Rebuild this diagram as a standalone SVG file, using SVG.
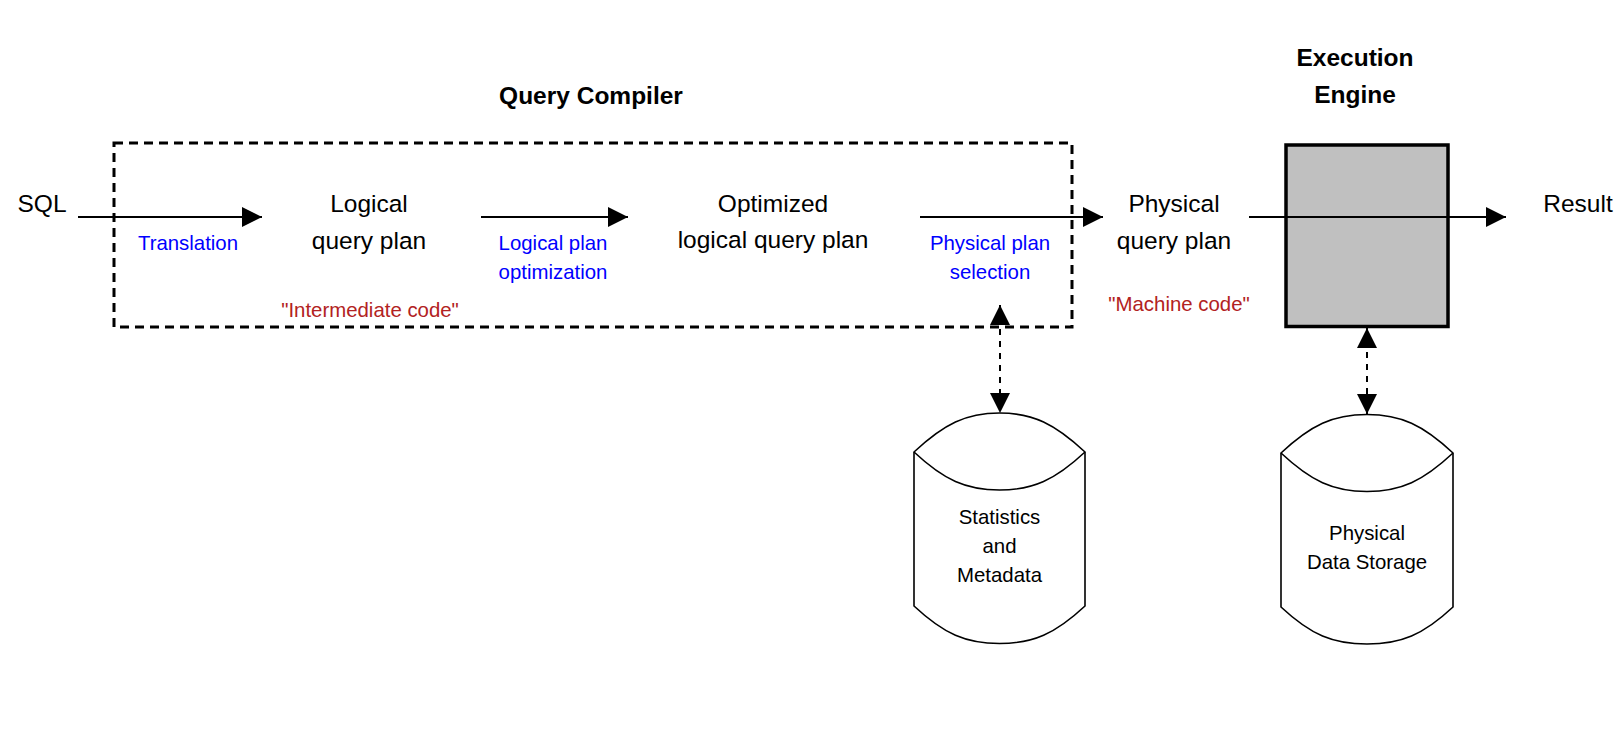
<svg xmlns="http://www.w3.org/2000/svg" width="1622" height="736" viewBox="0 0 1622 736">
<style>
text{font-family:"Liberation Sans",Arial,Helvetica,sans-serif;text-anchor:middle}
.lbl{font-size:24.5px;fill:#000}
.ttl{font-size:24.5px;font-weight:bold;fill:#000}
.op{font-size:20.4px;fill:#0000ff}
.code{font-size:20.4px;fill:#b22222}
.db{font-size:20.4px;fill:#000}
.conn{stroke:#000;stroke-width:2;fill:none}
.dash{stroke:#000;stroke-width:2;fill:none;stroke-dasharray:6 6}
.cyl{stroke:#000;stroke-width:1.6;fill:#fff}
</style>
<defs>
<marker id="ah" viewBox="0 0 20 20" refX="20" refY="10" markerWidth="20" markerHeight="20" markerUnits="userSpaceOnUse" orient="auto-start-reverse">
<path d="M0,0 L20,10 L0,20 Z" fill="#000"/>
</marker>
</defs>
<rect width="1622" height="736" fill="#fff"/>

<g id="query-compiler">
<rect x="114" y="143" width="958" height="184" fill="none" stroke="#000" stroke-width="3" stroke-dasharray="9 6"/>
<text class="ttl" x="591" y="103.6">Query Compiler</text>
</g>

<g id="execution-engine">
<rect x="1286" y="145" width="162" height="181.5" fill="#c0c0c0" stroke="#000" stroke-width="3.5"/>
<text class="ttl" x="1355" y="66.3">Execution</text>
<text class="ttl" x="1355" y="102.9">Engine</text>
</g>

<g id="connectors">
<line class="conn" x1="78" y1="217" x2="262" y2="217" marker-end="url(#ah)"/>
<line class="conn" x1="481" y1="217" x2="628" y2="217" marker-end="url(#ah)"/>
<line class="conn" x1="920" y1="217" x2="1103" y2="217" marker-end="url(#ah)"/>
<line class="conn" x1="1249" y1="217" x2="1506" y2="217" marker-end="url(#ah)"/>
<line class="dash" x1="1000" y1="305" x2="1000" y2="413" marker-start="url(#ah)" marker-end="url(#ah)"/>
<line class="dash" x1="1367" y1="328" x2="1367" y2="414" marker-start="url(#ah)" marker-end="url(#ah)"/>
</g>

<g id="sql"><text class="lbl" x="42" y="211.6">SQL</text></g>
<g id="translation"><text class="op" x="188" y="250.1">Translation</text></g>
<g id="logical-plan">
<text class="lbl" x="369" y="211.6">Logical</text>
<text class="lbl" x="369" y="248.6">query plan</text>
</g>
<g id="intermediate-code"><text class="code" x="370" y="317.1">"Intermediate code"</text></g>
<g id="logical-plan-optimization">
<text class="op" x="553" y="250.1">Logical plan</text>
<text class="op" x="553" y="279.1">optimization</text>
</g>
<g id="optimized-plan">
<text class="lbl" x="773" y="211.6">Optimized</text>
<text class="lbl" x="773" y="247.6">logical query plan</text>
</g>
<g id="physical-plan-selection">
<text class="op" x="990" y="250.1">Physical plan</text>
<text class="op" x="990" y="279.1">selection</text>
</g>
<g id="physical-plan">
<text class="lbl" x="1174" y="211.6">Physical</text>
<text class="lbl" x="1174" y="248.6">query plan</text>
</g>
<g id="machine-code"><text class="code" x="1179" y="311.1">"Machine code"</text></g>
<g id="result"><text class="lbl" x="1578" y="211.6">Result</text></g>

<g id="statistics-metadata">
<path class="cyl" d="M914,452 C944,424 966,413 999.5,413 C1033,413 1055,424 1085,452 L1085,606 C1055,634 1033,643.5 999.5,643.5 C966,643.5 944,634 914,606 Z"/>
<path class="cyl" fill="none" d="M914,452 C944,480 966,490 999.5,490 C1033,490 1055,480 1085,452"/>
<text class="db" x="999.5" y="523.8">Statistics</text>
<text class="db" x="999.5" y="552.8">and</text>
<text class="db" x="999.5" y="582.1">Metadata</text>
</g>

<g id="physical-data-storage">
<path class="cyl" d="M1281,453 C1311,425 1333,414.5 1367,414.5 C1401,414.5 1423,425 1453,453 L1453,607 C1423,635 1401,644 1367,644 C1333,644 1311,635 1281,607 Z"/>
<path class="cyl" fill="none" d="M1281,453 C1311,481 1333,491.5 1367,491.5 C1401,491.5 1423,481 1453,453"/>
<text class="db" x="1367" y="539.8">Physical</text>
<text class="db" x="1367" y="568.8">Data Storage</text>
</g>
</svg>
